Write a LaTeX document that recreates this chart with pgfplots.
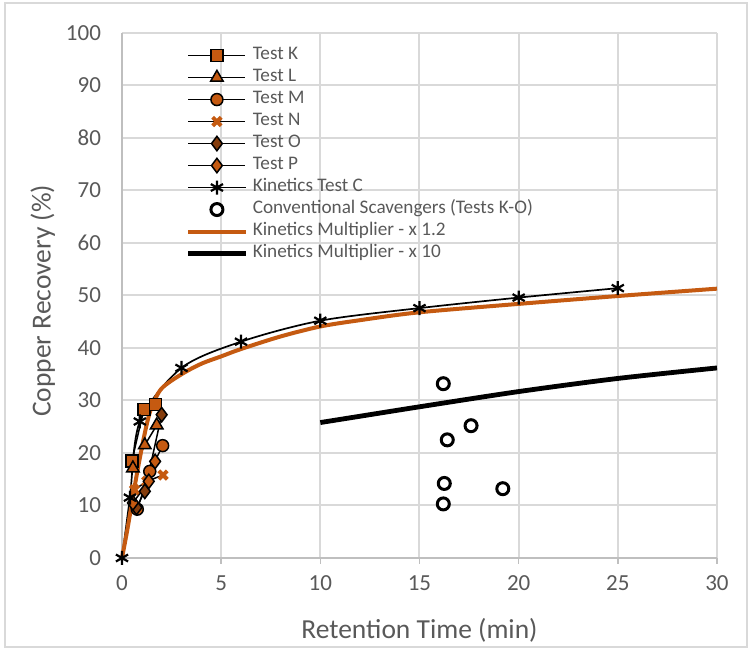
\documentclass[border=0pt]{standalone}
\usepackage{fontspec}
\setmainfont{Carlito}
\usepackage{pgfplots}
\pgfplotsset{compat=1.18}
\definecolor{xlorange}{HTML}{C55A11}
\definecolor{xlbrown}{HTML}{843C0C}
\definecolor{xltext}{HTML}{595959}
\definecolor{xlgrid}{HTML}{D9D9D9}
\definecolor{xlaxis}{HTML}{BFBFBF}

\begin{document}
\begin{tikzpicture}
\begin{axis}[
  scale only axis, width=297.5pt, height=262.5pt,
  xmin=0, xmax=30, ymin=0, ymax=100,
  xtick={0,5,...,30}, ytick={0,10,...,100},
  axis x line*=bottom, axis y line*=left,
  axis line style={xlaxis, line width=0.75pt, -},
  grid=major, grid style={xlgrid, line width=1pt},
  xtick style={xlaxis, line width=0.75pt}, xtick align=outside,
  major tick length=3pt, ytick style={draw=none},
  tick label style={font=\fontsize{11.5}{13}\selectfont, text=xltext},
  /pgf/number format/assume math mode=true,
  yticklabel style={xshift=-7pt},
  xticklabel style={yshift=-2.5pt},
  xlabel={Retention Time (min)}, ylabel={Copper Recovery (\%)},
  label style={font=\fontsize{13.75}{16}\selectfont, text=xltext},
  xlabel style={at={(axis description cs:0.5,-0.137)}, anchor=center},
  ylabel style={at={(axis description cs:-0.133,0.49)}, anchor=center},
  clip=false,
  legend style={
    at={(rel axis cs:0.1076,0.978)}, anchor=north west,
    draw=none, fill=none, inner sep=0pt, outer sep=0pt,
    font=\fontsize{9.6}{11}\selectfont, text=xltext,
    row sep=0pt, column sep=2.5pt,
    nodes={inner sep=0pt, text height=7.5pt, text depth=3.5pt},
    legend cell align=left,
  },
  legend image code/.code={\draw[mark repeat=2,mark phase=2,#1] plot coordinates {(0pt,0pt) (14.25pt,0pt) (28.5pt,0pt)};},
]
\coordinate (o) at (rel axis cs:0,0);

% Test K
\addplot[black, line width=0.75pt, mark=square*, mark size=3pt,
  mark options={fill=xlorange, draw=black, line width=0.75pt}]
  coordinates {(0.5,18.5) (1.1,28.3) (1.7,29.2)};
% Test L
\addplot[black, line width=0.75pt, mark=triangle*, mark size=3.6pt,
  mark options={fill=xlorange, draw=black, line width=0.75pt}]
  coordinates {(0.55,17.1) (1.15,21.5) (1.75,25.3)};
% Test M
\addplot[black, line width=0.75pt, mark=*, mark size=3pt,
  mark options={fill=xlorange, draw=black, line width=0.75pt}]
  coordinates {(0.77,9.3) (1.4,16.5) (2.05,21.4)};
% Test N
\addplot[black, line width=0.75pt, mark=x, mark size=3pt,
  mark options={draw=xlorange, line width=2pt}]
  coordinates {(0.63,13.0) (1.25,14.6) (2.07,15.8)};
% Test O
\addplot[black, line width=0.75pt, mark=diamond*, mark size=3.6pt,
  mark options={fill=xlbrown, draw=black, line width=0.75pt}]
  coordinates {(0.73,9.6) (1.15,12.7) (2.0,27.3)};
% Test P
\addplot[black, line width=0.75pt, mark=diamond*, mark size=3.6pt,
  mark options={fill=xlorange, draw=black, line width=0.75pt}]
  coordinates {(0.55,10.5) (1.35,14.6) (1.67,18.4)};
% Kinetics Test C
\addplot[black, line width=0.85pt, smooth, mark=asterisk, mark size=3.5pt,
  mark options={draw=black, line width=1.1pt}]
  coordinates {(0,0) (0.4,11.5) (0.9,26.0) (3,36.2) (6,41.2) (10,45.2) (15,47.6) (20,49.6) (25,51.4)};
% Conventional scavengers
\addplot[only marks, mark=*, mark size=3pt,
  mark options={fill=white, draw=black, line width=1.5pt}]
  coordinates {(16.2,33.2) (17.6,25.2) (16.4,22.5) (16.25,14.2) (16.2,10.3) (19.2,13.2)};
% Kinetics multiplier x1.2
\addplot[xlorange, line width=2pt, smooth]
  coordinates {(0,0) (0.25,5) (0.5,10.5) (0.75,16) (1,21) (1.25,25.5) (1.5,28.8) (2,32.3) (3,35) (4,37) (5,38.4) (6,39.8) (8,42.2) (10,44.1) (12,45.3) (15,46.8) (20,48.4) (25,49.9) (30,51.3)};
% Kinetics multiplier x10
\addplot[black, line width=2.4pt, smooth]
  coordinates {(10,25.8) (12,27.0) (15,28.8) (20,31.7) (25,34.2) (30,36.2)};

\legend{Test K, Test L, Test M, Test N, Test O, Test P, Kinetics Test C,
  Conventional Scavengers (Tests K-O), Kinetics Multiplier - x 1.2, Kinetics Multiplier - x 10}
\end{axis}
\draw[xlgrid, line width=0.75pt] ([shift={(-58.5pt,-44.5pt)}]o) rectangle ([shift={(312.5pt,277.5pt)}]o);
\pgfresetboundingbox
\useasboundingbox ([shift={(-61pt,-47.5pt)}]o) rectangle ([shift={(314.5pt,279pt)}]o);
\end{tikzpicture}
\end{document}
